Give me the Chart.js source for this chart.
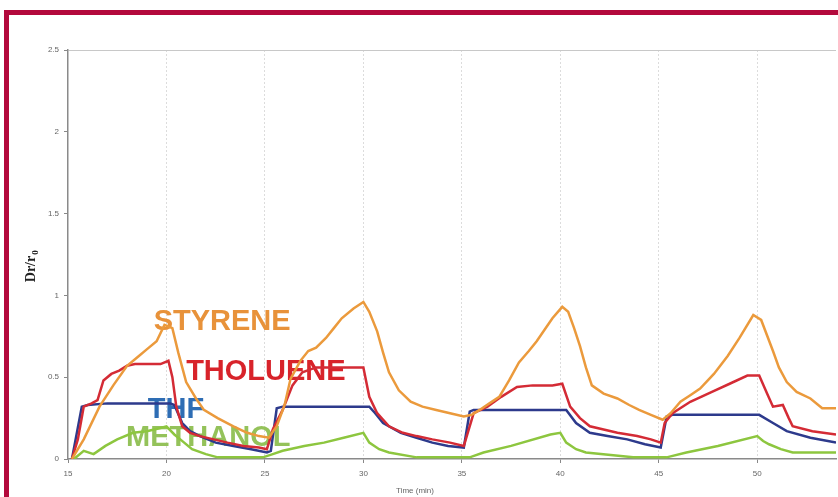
<!DOCTYPE html>
<html>
<head>
<meta charset="utf-8">
<script src="https://cdn.jsdelivr.net/npm/chart.js@4"></script>
<style>
  html, body { margin: 0; padding: 0; background: #fff; overflow: hidden; }
  .frame { position: absolute; left: 4px; top: 10px; width: 900px; height: 600px;
           border-left: 5px solid #b3093c; border-top: 5px solid #b3093c; }
  .wrap { position: absolute; left: 0; top: 0; width: 838px; height: 497px; }
</style>
</head>
<body>
<div class="frame"></div>
<div class="wrap"><canvas id="chart" width="838" height="497"></canvas></div>
<script>
// readings: [time (min), Dr/r0]
const styrene = [[15.2,0],[15.8,0.12],[16.6,0.32],[17.3,0.45],[18.0,0.57],[18.6,0.63],[19.0,0.67],[19.5,0.72],[19.9,0.82],[20.3,0.8],[20.6,0.65],[21.0,0.47],[21.5,0.37],[21.9,0.3],[22.6,0.25],[23.4,0.2],[24.1,0.16],[24.7,0.14],[25.2,0.13],[25.6,0.2],[26.0,0.33],[26.3,0.49],[26.8,0.6],[27.2,0.66],[27.6,0.68],[28.1,0.74],[28.5,0.8],[28.9,0.86],[29.5,0.92],[30.0,0.96],[30.3,0.9],[30.7,0.78],[31.0,0.65],[31.3,0.53],[31.8,0.42],[32.4,0.35],[33.0,0.32],[33.7,0.3],[34.4,0.28],[35.1,0.26],[35.5,0.27],[35.9,0.3],[36.4,0.34],[36.9,0.38],[37.4,0.48],[37.9,0.59],[38.4,0.66],[38.8,0.72],[39.2,0.79],[39.6,0.86],[40.1,0.93],[40.4,0.9],[40.7,0.8],[41.0,0.69],[41.3,0.56],[41.6,0.45],[42.2,0.4],[42.9,0.37],[43.5,0.33],[44.0,0.3],[44.6,0.27],[45.2,0.24],[45.6,0.28],[46.1,0.35],[46.6,0.39],[47.1,0.43],[47.8,0.52],[48.5,0.63],[49.1,0.74],[49.8,0.88],[50.2,0.85],[50.8,0.66],[51.1,0.56],[51.5,0.47],[52.0,0.41],[52.7,0.37],[53.3,0.31],[54.0,0.31]];
const tholuene = [[15.2,0],[15.5,0.12],[15.8,0.32],[16.2,0.34],[16.5,0.36],[16.8,0.48],[17.2,0.52],[17.6,0.54],[18.0,0.57],[18.4,0.58],[19.0,0.58],[19.7,0.58],[20.1,0.6],[20.3,0.5],[20.5,0.32],[20.8,0.2],[21.2,0.16],[21.7,0.14],[22.4,0.12],[23.1,0.1],[23.9,0.08],[24.7,0.07],[25.1,0.06],[25.4,0.18],[25.9,0.3],[26.4,0.45],[26.9,0.53],[27.6,0.56],[28.5,0.56],[29.3,0.56],[30.0,0.56],[30.3,0.38],[30.7,0.28],[31.3,0.2],[32.0,0.16],[32.7,0.14],[33.5,0.12],[34.4,0.1],[35.1,0.08],[35.6,0.28],[36.3,0.32],[37.0,0.38],[37.8,0.44],[38.6,0.45],[39.6,0.45],[40.1,0.46],[40.5,0.32],[41.0,0.25],[41.5,0.2],[42.2,0.18],[42.9,0.16],[43.9,0.14],[44.6,0.12],[45.1,0.1],[45.3,0.22],[45.7,0.28],[46.6,0.35],[47.7,0.41],[48.6,0.46],[49.5,0.51],[50.1,0.51],[50.5,0.4],[50.8,0.32],[51.3,0.33],[51.6,0.25],[51.8,0.2],[52.8,0.17],[54.0,0.15]];
const thf = [[15.2,0],[15.7,0.32],[16.0,0.33],[17.0,0.34],[18.0,0.34],[19.0,0.34],[20.2,0.34],[20.4,0.33],[20.8,0.22],[21.2,0.17],[21.7,0.14],[22.5,0.1],[23.4,0.08],[24.3,0.06],[25.1,0.04],[25.3,0.05],[25.6,0.31],[25.9,0.32],[28.0,0.32],[30.3,0.32],[30.6,0.28],[31.0,0.22],[31.9,0.16],[32.7,0.13],[33.5,0.1],[34.3,0.08],[35.1,0.07],[35.4,0.29],[35.6,0.3],[38.0,0.3],[40.3,0.3],[40.8,0.22],[41.5,0.16],[42.4,0.14],[43.4,0.12],[44.3,0.09],[45.1,0.07],[45.4,0.26],[45.7,0.27],[48.0,0.27],[50.1,0.27],[50.8,0.22],[51.5,0.17],[52.7,0.13],[54.0,0.1]];
const methanol = [[15.3,0],[15.8,0.05],[16.3,0.03],[16.9,0.08],[17.5,0.12],[18.3,0.16],[19.0,0.17],[19.7,0.19],[20.0,0.2],[20.4,0.15],[20.7,0.12],[21.3,0.06],[22.0,0.03],[22.6,0.01],[24.9,0.01],[25.4,0.03],[25.9,0.05],[27.0,0.08],[28.0,0.1],[29.0,0.13],[30.0,0.16],[30.3,0.1],[30.8,0.06],[31.3,0.04],[32.7,0.01],[35.4,0.01],[36.1,0.04],[37.5,0.08],[39.5,0.15],[40.0,0.16],[40.3,0.1],[40.8,0.06],[41.3,0.04],[43.7,0.01],[45.4,0.01],[46.4,0.04],[48.0,0.08],[50.0,0.14],[50.3,0.11],[50.6,0.09],[51.2,0.06],[51.8,0.04],[53.8,0.04],[54.0,0.04]];

const seriesNames = ['STYRENE', 'THOLUENE', 'THF', 'METHANOL'];
const xTicks = [15, 20, 25, 30, 35, 40, 45, 50];
const yTicks = [0, 0.5, 1, 1.5, 2, 2.5];

// in-plot labels, anchored in data units
const curveLabels = [
    { text: 'STYRENE',  x: 19.35, y: 0.84, color: '#e8923a' },
    { text: 'THOLUENE', x: 21.0,  y: 0.53, color: '#d8232a' },
    { text: 'THF',      x: 19.05, y: 0.30, color: '#2e6db4' },
    { text: 'METHANOL', x: 17.95, y: 0.13, color: '#94c25a' }
];

const toXY = arr => arr.map(p => ({ x: p[0], y: p[1] }));

const labelPlugin = {
    id: 'labels',
    beforeDatasetsDraw(chart) {
        const ctx = chart.ctx;
        const xs = chart.scales.x, ys = chart.scales.y;
        ctx.save();
        ctx.font = 'bold 29px "Liberation Sans", Arial, sans-serif';
        ctx.textBaseline = 'middle';
        curveLabels.forEach(l => {
            ctx.fillStyle = l.color;
            ctx.fillText(l.text, xs.getPixelForValue(l.x), ys.getPixelForValue(l.y));
        });
        ctx.restore();
    },
    afterDraw(chart) {
        const ctx = chart.ctx;
        ctx.save();
        ctx.fillStyle = '#666';
        ctx.font = '8px "Liberation Sans", Arial, sans-serif';
        ctx.textAlign = 'center';
        ctx.fillText('Time (min)', 415, 493);

        // y title: Dr/r with subscript 0, rotated
        ctx.translate(35, 266);
        ctx.rotate(-Math.PI / 2);
        ctx.textAlign = 'left';
        ctx.textBaseline = 'alphabetic';
        ctx.fillStyle = '#222';
        ctx.font = 'bold 14px "Liberation Serif", "Times New Roman", serif';
        const w = ctx.measureText('Dr/r').width;
        const x0 = -(w + 6) / 2;
        ctx.fillText('Dr/r', x0, 0);
        ctx.font = 'bold 9px "Liberation Serif", serif';
        ctx.fillText('0', x0 + w + 1, 3);
        ctx.restore();
    }
};

new Chart(document.getElementById('chart').getContext('2d'), {
    type: 'line',
    data: {
        datasets: [
            { label: seriesNames[0], data: toXY(styrene),  borderColor: '#eb9a3c' },
            { label: seriesNames[1], data: toXY(tholuene), borderColor: '#d42b35' },
            { label: seriesNames[2], data: toXY(thf),      borderColor: '#2d3a8c' },
            { label: seriesNames[3], data: toXY(methanol), borderColor: '#8dc63f' }
        ].map(d => Object.assign(d, { borderWidth: 2.5, pointRadius: 0, tension: 0, fill: false }))
    },
    options: {
        responsive: false,
        animation: false,
        layout: { padding: { top: 50, right: 2, left: 0, bottom: 0 } },
        plugins: { legend: { display: false }, tooltip: { enabled: false } },
        scales: {
            x: {
                type: 'linear', min: 15, max: 54,
                afterFit: s => { s.height = 38; },
                afterBuildTicks: s => { s.ticks = xTicks.map(v => ({ value: v })); },
                ticks: { color: '#666', font: { size: 8, family: '"Liberation Sans", Arial' }, padding: 6, maxRotation: 0 },
                grid: {
                    color: c => (c.tick && c.tick.value === 15) ? 'rgba(0,0,0,0)' : '#dcdcdc',
                    tickColor: '#888', tickLength: 4
                },
                border: { display: true, color: '#8a8a8a', width: 1.5, dash: [2, 2] }
            },
            y: {
                min: 0, max: 2.5,
                afterFit: s => { s.width = 68; },
                afterBuildTicks: s => { s.ticks = yTicks.map(v => ({ value: v })); },
                ticks: {
                    color: '#666', font: { size: 8, family: '"Liberation Sans", Arial' }, padding: 5,
                    callback: v => String(v)
                },
                grid: {
                    color: c => (c.tick && c.tick.value === 2.5) ? '#c8c8c8' : 'rgba(0,0,0,0)',
                    tickColor: '#888', tickLength: 4
                },
                border: { display: true, color: '#8a8a8a', width: 1.5 }
            }
        }
    },
    plugins: [labelPlugin]
});
</script>
</body>
</html>
